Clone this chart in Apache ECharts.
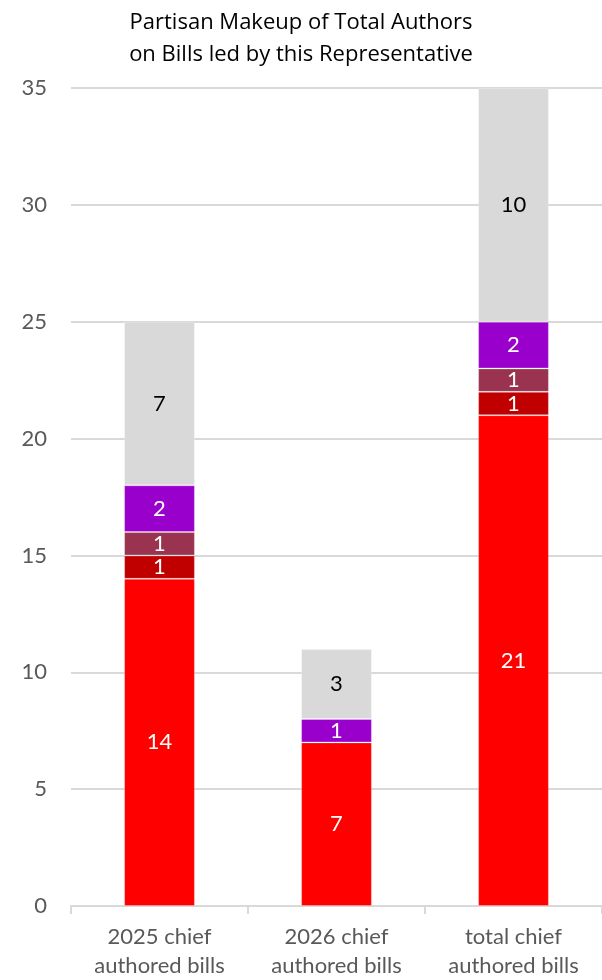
<!DOCTYPE html>
<html>
<head>
<meta charset="utf-8">
<script src="https://cdn.jsdelivr.net/npm/echarts@6/dist/echarts.min.js"></script>
<style>
  html, body { margin: 0; padding: 0; background: #fff; }
  #chart_1 { width: 602px; height: 980px; }
</style>
</head>
<body>
<div id="chart_1"></div>
<script>
var categories = ['2025 chief\nauthored bills', '2026 chief\nauthored bills', 'total chief\nauthored bills'];
var redVals = [14, 7, 21];
var darkRedVals = [1, 0, 1];
var maroonVals = [1, 0, 1];
var purpleVals = [2, 1, 2];
var grayVals = [7, 3, 10];
var yTicks = [0, 5, 10, 15, 20, 25, 30, 35];

var myChart = echarts.init(document.getElementById('chart_1'));

function seg(name, data, color, labelColor) {
    return {
        name: name,
        type: 'bar',
        stack: 'total',
        barWidth: '40%',
        data: data,
        itemStyle: { color: color, borderColor: 'rgba(255,255,255,0.25)', borderWidth: 1 },
        label: {
            show: true,
            position: 'inside',
            color: labelColor,
            fontSize: 22,
            fontFamily: 'Lato',
            formatter: function (p) { return p.value ? String(p.value) : ''; }
        }
    };
}

var option = {
    animation: false,
    title: {
        text: 'Partisan Makeup of Total Authors\non Bills led by this Representative',
        left: 'center',
        top: 2,
        textStyle: { fontSize: 22, fontWeight: 'normal', color: '#000', fontFamily: 'Open Sans', lineHeight: 32 }
    },
    grid: { left: 71, right: 0, top: 88, bottom: 72 },
    xAxis: {
        type: 'category',
        data: categories,
        axisLine: { lineStyle: { color: '#d9d9d9', width: 2 } },
        axisTick: { show: true, length: 8, lineStyle: { color: '#d9d9d9', width: 2 } },
        axisLabel: { color: '#595959', fontSize: 22, fontFamily: 'Lato', lineHeight: 29, margin: 16 }
    },
    yAxis: {
        type: 'value',
        min: yTicks[0],
        max: yTicks[yTicks.length - 1],
        interval: 5,
        axisLine: { show: false },
        axisTick: { show: false },
        axisLabel: { color: '#595959', fontSize: 22, fontFamily: 'Lato', margin: 24 },
        splitLine: { lineStyle: { color: '#d9d9d9', width: 2 } }
    },
    series: [
        seg('red', redVals, '#ff0000', '#fff'),
        seg('darkred', darkRedVals, '#c00000', '#fff'),
        seg('maroon', maroonVals, '#993350', '#fff'),
        seg('purple', purpleVals, '#9900cc', '#fff'),
        seg('gray', grayVals, '#d9d9d9', '#000')
    ]
};

if (option && typeof option === 'object')
    myChart.setOption(option);
window.addEventListener("resize", function () {
    myChart.resize();
});
</script>
</body>
</html>
